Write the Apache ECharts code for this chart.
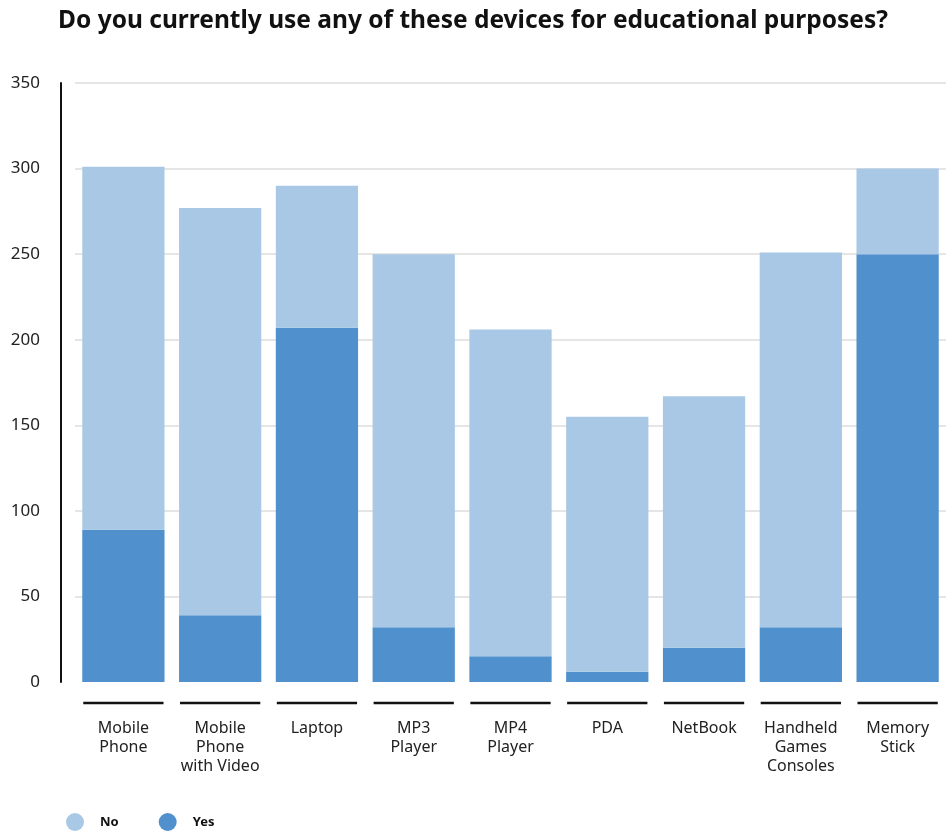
<!DOCTYPE html>
<html>
<head>
<meta charset="utf-8">
<script src="https://cdn.jsdelivr.net/npm/echarts@6/dist/echarts.min.js"></script>
<style>
  html, body { margin: 0; padding: 0; background: #fff; }
  #chart { width: 946px; height: 833px; }
</style>
</head>
<body>
<div id="chart"></div>
<script>
// Survey: devices used for educational purposes
const categories = [
  'Mobile\nPhone', 'Mobile\nPhone\nwith Video', 'Laptop', 'MP3\nPlayer', 'MP4\nPlayer',
  'PDA', 'NetBook', 'Handheld\nGames\nConsoles', 'Memory\nStick'
];
const yesValues = [89, 39, 207, 32, 15, 6, 20, 32, 250];
const noValues = [212, 238, 83, 218, 191, 149, 147, 219, 50];
const yTicks = { min: 0, max: 350, interval: 50 };

const FONT = '"Noto Sans", sans-serif';
const chart = echarts.init(document.getElementById('chart'), null, { renderer: 'canvas' });

chart.setOption({
  animation: false,
  title: {
    text: 'Do you currently use any of these devices for educational purposes?',
    left: 'center',
    top: 4,
    textStyle: { fontFamily: FONT, fontSize: 24.5, fontWeight: 'bold', color: '#111' }
  },
  legend: {
    left: 61,
    bottom: -3,
    icon: 'circle',
    itemWidth: 18,
    itemHeight: 18,
    itemGap: 40,
    data: ['No', 'Yes'],
    textStyle: { fontFamily: FONT, fontSize: 13, fontWeight: 'bold', color: '#111', padding: [0, 0, 0, 11] }
  },
  grid: { left: 75, right: -4, top: 83, bottom: 151 },
  xAxis: {
    type: 'category',
    data: categories,
    axisLine: { show: false },
    axisTick: { show: false },
    axisLabel: {
      interval: 0,
      margin: 37,
      fontFamily: FONT,
      fontSize: 16,
      lineHeight: 19,
      color: '#222',
      verticalAlign: 'top'
    }
  },
  yAxis: {
    type: 'value',
    min: yTicks.min,
    max: yTicks.max,
    interval: yTicks.interval,
    offset: 14,
    axisLine: { show: true, lineStyle: { color: '#111', width: 2 } },
    axisTick: { show: false },
    axisLabel: { margin: 21, fontFamily: FONT, fontSize: 17, color: '#222' },
    splitLine: { show: true, showMinLine: false, lineStyle: { color: '#dcdcdc', width: 1.5 } }
  },
  series: [
    {
      name: 'Yes',
      type: 'bar',
      stack: 'total',
      barCategoryGap: '15%',
      itemStyle: { color: '#4f90cd' },
      data: yesValues
    },
    {
      name: 'No',
      type: 'bar',
      stack: 'total',
      barCategoryGap: '15%',
      itemStyle: { color: '#a9c8e5' },
      data: noValues
    },
    {
      // underline segment beneath each category's bar
      name: 'baseline',
      type: 'custom',
      silent: true,
      renderItem: function (params, api) {
        const base = api.coord([api.value(0), 0]);
        const band = api.size([1, 0])[0];
        const half = band * 0.85 / 2 - 1;
        return {
          type: 'line',
          shape: { x1: base[0] - half, y1: base[1] + 21, x2: base[0] + half, y2: base[1] + 21 },
          style: { stroke: '#111', lineWidth: 2.5 }
        };
      },
      data: categories.map((c, i) => [i])
    }
  ]
});
</script>
</body>
</html>
